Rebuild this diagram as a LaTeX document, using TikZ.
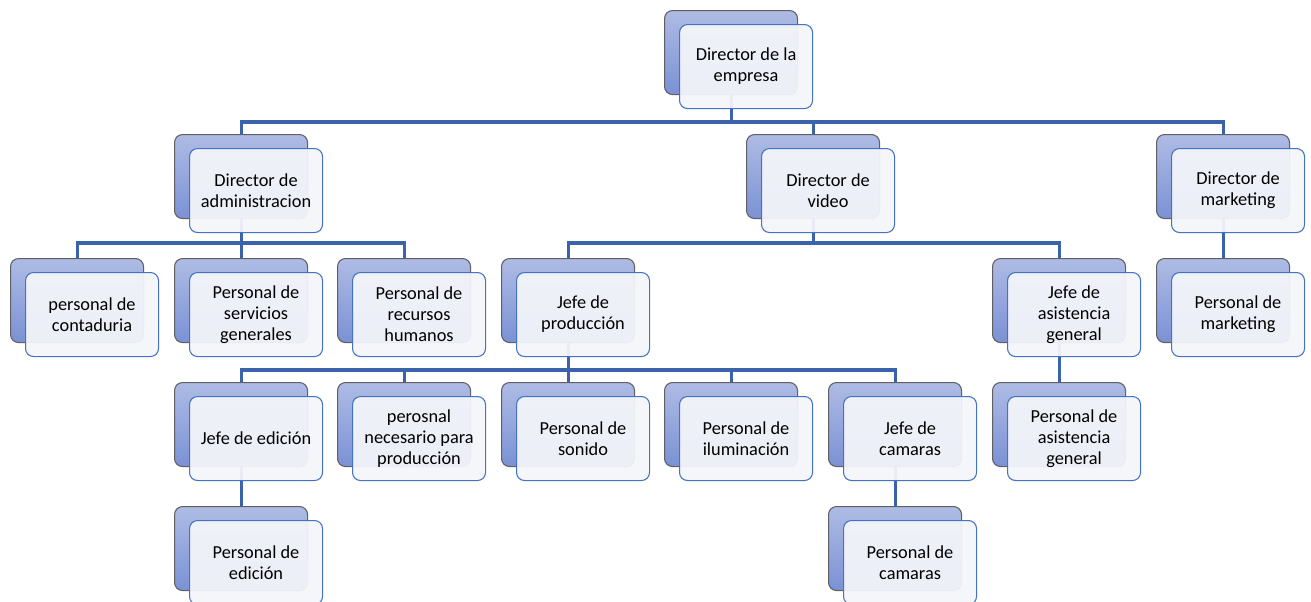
\documentclass[tikz,border=0pt]{standalone}
\usepackage{fontspec}
\usepackage{tikz}
\setmainfont{Carlito}
\usetikzlibrary{positioning}
\usetikzlibrary{backgrounds}
\definecolor{linkblue}{RGB}{58, 99, 172}
\definecolor{edgeblue}{RGB}{68, 114, 196}
\definecolor{paleblue}{RGB}{244, 245, 250}
\definecolor{topblue}{RGB}{174, 187, 228}
\definecolor{lowblue}{RGB}{122, 145, 212}
\definecolor{rimgray}{RGB}{95, 95, 100}

\newcommand{\orgbox}[4]{%
    \node [backbox] (#1b) at (#2, #3) {};
    \node [frontbox] (#1) at ([shift={(15, 14)}]#1b.north west) {#4};
}

\begin{document}
\begin{tikzpicture}[x=0.75pt, y=-0.75pt,
    backbox/.style={anchor=north west, minimum width=99.75pt, minimum height=63pt,
        inner sep=0pt, rounded corners=6pt, draw=rimgray, line width=0.8pt,
        top color=topblue, bottom color=lowblue},
    frontbox/.style={anchor=north west, minimum width=99.75pt, minimum height=63pt,
        inner sep=0pt, rounded corners=6pt, draw=edgeblue, line width=0.8pt,
        fill=paleblue, fill opacity=0.94, text opacity=1, align=center,
        font=\fontsize{13.75}{15.75}\selectfont},
    link/.style={draw=linkblue, line width=2.3pt}]
    \useasboundingbox (0, 0) rectangle (1311, 601);

    \orgbox{empresa}{664}{10}{Director de la\\empresa}

    \orgbox{admin}{174}{134}{Director de\\administracion}
    \orgbox{video}{746}{134}{Director de\\video}
    \orgbox{mkt}{1156}{134}{Director de\\marketing}

    \orgbox{conta}{10}{258}{personal de\\contaduria}
    \orgbox{servicios}{174}{258}{Personal de\\servicios\\generales}
    \orgbox{rrhh}{337}{258}{Personal de\\recursos\\humanos}
    \orgbox{prod}{501}{258}{Jefe de\\producción}
    \orgbox{asist}{992}{258}{Jefe de\\asistencia\\general}
    \orgbox{pmkt}{1156}{258}{Personal de\\marketing}

    \orgbox{edicion}{174}{382}{Jefe de edición}
    \orgbox{necesario}{337}{382}{perosnal\\necesario para\\producción}
    \orgbox{sonido}{501}{382}{Personal de\\sonido}
    \orgbox{ilum}{664}{382}{Personal de\\iluminación}
    \orgbox{camaras}{828}{382}{Jefe de\\camaras}
    \orgbox{pasist}{992}{382}{Personal de\\asistencia\\general}

    \orgbox{pedicion}{174}{506}{Personal de\\edición}
    \orgbox{pcamaras}{828}{506}{Personal de\\camaras}

    \begin{scope}[on background layer]
        \foreach \kid in {adminb, videob, mktb}
            \draw [link] (empresab.center) -- (empresab.center |- 0, 122) -| (\kid.north);
        \foreach \kid in {contab, serviciosb, rrhhb}
            \draw [link] (adminb.center) -- (adminb.center |- 0, 243) -| (\kid.north);
        \foreach \kid in {prodb, asistb}
            \draw [link] (videob.center) -- (videob.center |- 0, 243) -| (\kid.north);
        \foreach \kid in {edicionb, necesariob, sonidob, ilumb, camarasb}
            \draw [link] (prodb.center) -- (prodb.center |- 0, 370) -| (\kid.north);
        \draw [link] (mktb.center) -- (pmktb.north);
        \draw [link] (asistb.center) -- (pasistb.north);
        \draw [link] (edicionb.center) -- (pedicionb.north);
        \draw [link] (camarasb.center) -- (pcamarasb.north);
    \end{scope}
\end{tikzpicture}
\end{document}
